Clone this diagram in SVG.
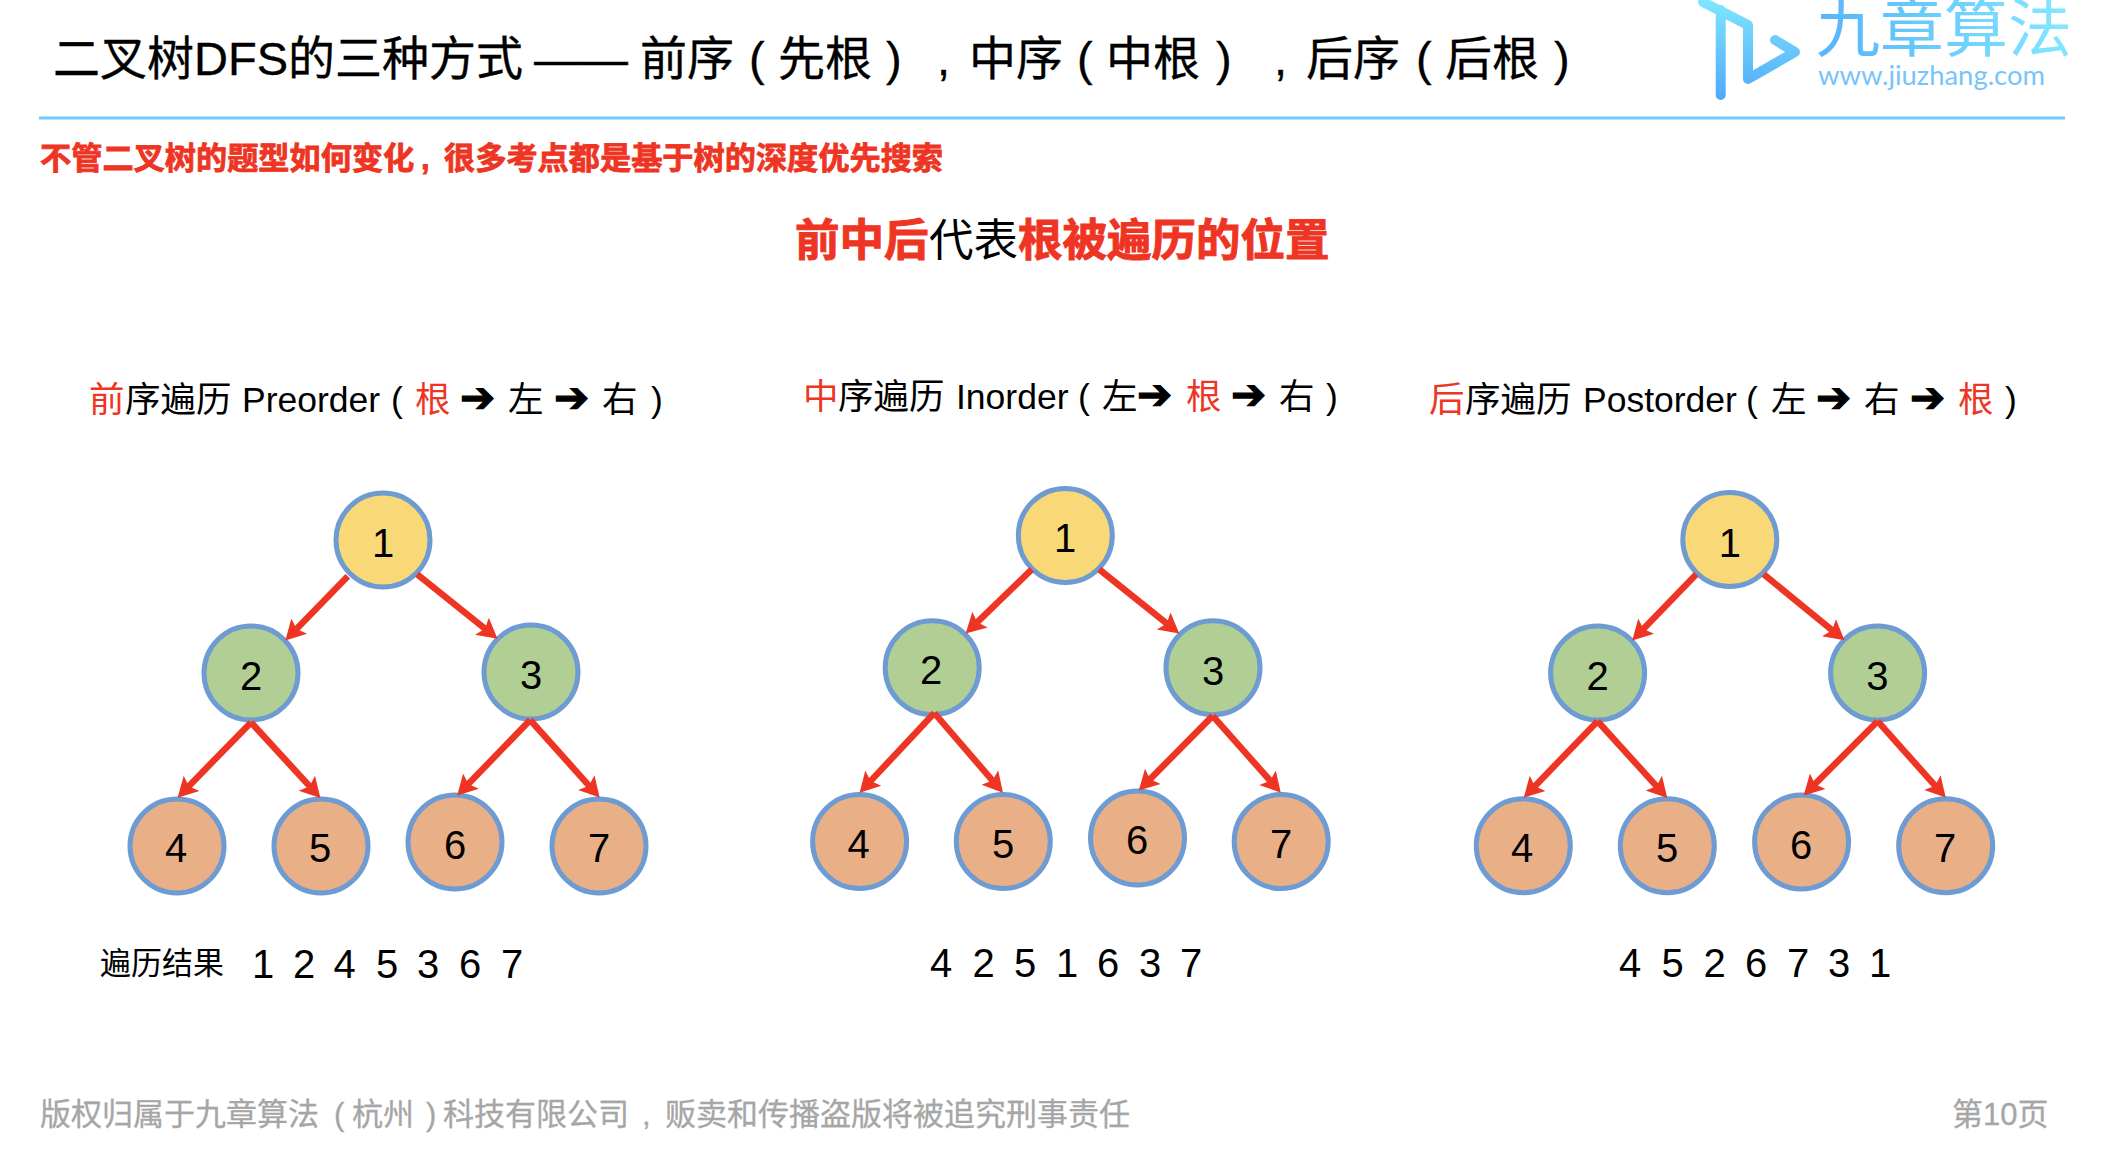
<svg xmlns="http://www.w3.org/2000/svg" width="2106" height="1158" viewBox="0 0 2106 1158">
<defs>
<style>
text{font-family:"Liberation Sans","Noto Sans CJK SC",sans-serif;fill:#000}
.r{fill:#EE3524}
.b{font-weight:700;stroke:#EE3524}
.title{font-size:47px;stroke:#000;stroke-width:.35px}
.sub{font-size:31.2px}
.sub .b{stroke-width:.8px}
.head{font-size:44.5px}
.head .b{stroke-width:1px}
.tree{font-size:35.5px}
.seq{font-size:40px;text-anchor:middle}
.foot{font-size:31px;fill:#A6A6A6;stroke:#A6A6A6;stroke-width:.3px}
.lbl{font-size:40px;text-anchor:middle}
.arw{font-family:"DejaVu Sans",sans-serif;font-size:42px;stroke:#000;stroke-width:1.2px}
circle{stroke:#6E9BD2;stroke-width:5}
.y{fill:#F9D877}.g{fill:#B1CE95}.o{fill:#E9B088}
.c{stroke:#EE3524;stroke-width:6.5;fill:none;marker-end:url(#ah)}
</style>
<marker id="ah" markerUnits="userSpaceOnUse" viewBox="0 0 22 24" markerWidth="22" markerHeight="24" refX="12" refY="12" orient="auto"><path d="M0,1 L20,12 L0,23 L4,12 Z" fill="#EE3524"/></marker>
<linearGradient id="lg" gradientUnits="userSpaceOnUse" x1="1720" y1="0" x2="1720" y2="100"><stop offset="0" stop-color="#7FE6FF"/><stop offset="1" stop-color="#50A8FA"/></linearGradient>
<linearGradient id="tg" gradientUnits="userSpaceOnUse" x1="1818" y1="50" x2="2069" y2="10"><stop offset="0" stop-color="#55B4FB"/><stop offset="1" stop-color="#85E8FF"/></linearGradient>
</defs>
<rect width="2106" height="1158" fill="#fff"/>

<g id="header">
<text class="title" y="75"><tspan x="53">二叉树DFS的三种方式</tspan><tspan x="534">——</tspan><tspan x="640">前序</tspan><tspan x="749">(</tspan><tspan x="778">先根</tspan><tspan x="886">)</tspan><tspan x="937">,</tspan><tspan x="969">中序</tspan><tspan x="1077">(</tspan><tspan x="1106">中根</tspan><tspan x="1216">)</tspan><tspan x="1274">,</tspan><tspan x="1306">后序</tspan><tspan x="1416">(</tspan><tspan x="1445">后根</tspan><tspan x="1554">)</tspan></text>
<rect x="39" y="116.5" width="2026" height="3" fill="#6DCBFD"/>
<text class="sub r" y="169"><tspan class="b" x="40">不管二叉树的题型如何变化</tspan><tspan class="b" x="421">,</tspan><tspan class="b" x="444">很多考点都是基于树的深度优先搜索</tspan></text>
<text class="head" y="256"><tspan class="r b" x="795">前中后</tspan><tspan x="929">代表</tspan><tspan class="r b" x="1018">根被遍历的位置</tspan></text>
</g>

<g id="logo">
<path d="M1703,2 L1748,25 L1748,79 L1795,52 L1775,40 M1720.7,10 L1720.7,95" fill="none" stroke="url(#lg)" stroke-width="10" stroke-linecap="round" stroke-linejoin="round"/>
<text x="1816" y="51" font-size="64" style="fill:url(#tg)">九章算法</text>
<text x="1818" y="85" textLength="227" lengthAdjust="spacingAndGlyphs" style="font-family:Lato,sans-serif;font-size:26px;fill:#78C4FA">www.jiuzhang.com</text>
</g>

<g id="tree-titles">
<text class="tree" y="412"><tspan class="r" x="89">前</tspan><tspan x="125">序遍历</tspan><tspan x="242">Preorder</tspan><tspan x="391">(</tspan><tspan class="r" x="415">根</tspan><tspan class="arw" x="460">➔</tspan><tspan x="508">左</tspan><tspan class="arw" x="554">➔</tspan><tspan x="602">右</tspan><tspan x="651">)</tspan></text>
<text class="tree" y="409"><tspan class="r" x="803">中</tspan><tspan x="838">序遍历</tspan><tspan x="956">Inorder</tspan><tspan x="1078">(</tspan><tspan x="1102">左</tspan><tspan class="arw" x="1137">➔</tspan><tspan class="r" x="1186">根</tspan><tspan class="arw" x="1231">➔</tspan><tspan x="1279">右</tspan><tspan x="1326">)</tspan></text>
<text class="tree" y="412"><tspan class="r" x="1429">后</tspan><tspan x="1465">序遍历</tspan><tspan x="1583">Postorder</tspan><tspan x="1746">(</tspan><tspan x="1771">左</tspan><tspan class="arw" x="1816">➔</tspan><tspan x="1864">右</tspan><tspan class="arw" x="1910">➔</tspan><tspan class="r" x="1958">根</tspan><tspan x="2005">)</tspan></text>
</g>

<g id="t1-n1"><circle class="y" cx="383" cy="540" r="47"/><text class="lbl" x="383" y="557">1</text></g>
<g id="t1-n2"><circle class="g" cx="251" cy="673" r="47"/><text class="lbl" x="251" y="690">2</text></g>
<g id="t1-n3"><circle class="g" cx="531" cy="672" r="47"/><text class="lbl" x="531" y="689">3</text></g>
<g id="t1-n4"><circle class="o" cx="177" cy="846" r="47"/><text class="lbl" x="176" y="862">4</text></g>
<g id="t1-n5"><circle class="o" cx="321" cy="846" r="47"/><text class="lbl" x="320" y="862">5</text></g>
<g id="t1-n6"><circle class="o" cx="455" cy="842" r="47"/><text class="lbl" x="455" y="859">6</text></g>
<g id="t1-n7"><circle class="o" cx="599" cy="846" r="47"/><text class="lbl" x="599" y="862">7</text></g>

<g id="t2-n1"><circle class="y" cx="1065.3" cy="535.5" r="47"/><text class="lbl" x="1065" y="552">1</text></g>
<g id="t2-n2"><circle class="g" cx="932.2" cy="667.8" r="47"/><text class="lbl" x="931" y="684">2</text></g>
<g id="t2-n3"><circle class="g" cx="1213" cy="667.8" r="47"/><text class="lbl" x="1213" y="684.5">3</text></g>
<g id="t2-n4"><circle class="o" cx="859.6" cy="841.6" r="47"/><text class="lbl" x="858.5" y="857.5">4</text></g>
<g id="t2-n5"><circle class="o" cx="1003.3" cy="841.6" r="47"/><text class="lbl" x="1003" y="857.5">5</text></g>
<g id="t2-n6"><circle class="o" cx="1137.5" cy="838" r="47"/><text class="lbl" x="1137" y="854">6</text></g>
<g id="t2-n7"><circle class="o" cx="1281.2" cy="841.6" r="47"/><text class="lbl" x="1281" y="857.5">7</text></g>

<g id="t3-n1"><circle class="y" cx="1729.8" cy="539.6" r="47"/><text class="lbl" x="1729.8" y="557">1</text></g>
<g id="t3-n2"><circle class="g" cx="1597.6" cy="673" r="47"/><text class="lbl" x="1597.6" y="690">2</text></g>
<g id="t3-n3"><circle class="g" cx="1877.6" cy="673" r="47"/><text class="lbl" x="1877.3" y="690">3</text></g>
<g id="t3-n4"><circle class="o" cx="1523.3" cy="845.7" r="47"/><text class="lbl" x="1522" y="862">4</text></g>
<g id="t3-n5"><circle class="o" cx="1667.3" cy="845.7" r="47"/><text class="lbl" x="1667" y="862">5</text></g>
<g id="t3-n6"><circle class="o" cx="1801.6" cy="842" r="47"/><text class="lbl" x="1801" y="858.5">6</text></g>
<g id="t3-n7"><circle class="o" cx="1945.7" cy="845.7" r="47"/><text class="lbl" x="1945" y="862">7</text></g>

<g id="connectors">
<line class="c" x1="347.8" y1="576.3" x2="290.9" y2="634.7"/>
<line class="c" x1="417.1" y1="574.3" x2="491.3" y2="633.8"/>
<line class="c" x1="251" y1="722.4" x2="183.2" y2="791.9"/>
<line class="c" x1="251" y1="722.4" x2="315" y2="792.1"/>
<line class="c" x1="530.2" y1="720" x2="462.7" y2="789.8"/>
<line class="c" x1="530.2" y1="720" x2="594.3" y2="791.6"/>
<line class="c" x1="1031.8" y1="569.4" x2="971.4" y2="627.9"/>
<line class="c" x1="1099.2" y1="569.4" x2="1173" y2="628.5"/>
<line class="c" x1="934.3" y1="713" x2="865.1" y2="786.9"/>
<line class="c" x1="934.3" y1="713" x2="997.7" y2="786.6"/>
<line class="c" x1="1212.7" y1="715.9" x2="1144.4" y2="784.9"/>
<line class="c" x1="1212.7" y1="715.9" x2="1275.5" y2="786.7"/>
<line class="c" x1="1696.3" y1="574.3" x2="1637.8" y2="634.7"/>
<line class="c" x1="1763.7" y1="574.3" x2="1838.3" y2="635.3"/>
<line class="c" x1="1597.6" y1="721.2" x2="1529.3" y2="791.9"/>
<line class="c" x1="1597.6" y1="721.2" x2="1661.9" y2="792.1"/>
<line class="c" x1="1877.6" y1="721.2" x2="1809.3" y2="789.8"/>
<line class="c" x1="1877.6" y1="721.2" x2="1940.4" y2="791.6"/>
</g>

<g id="results">
<text x="100" y="974" style="font-size:31px">遍历结果</text>
<text class="seq" y="977.5"><tspan x="263">1</tspan><tspan x="304">2</tspan><tspan x="344.5">4</tspan><tspan x="387">5</tspan><tspan x="428">3</tspan><tspan x="470">6</tspan><tspan x="512">7</tspan></text>
<text class="seq" y="976.5"><tspan x="941">4</tspan><tspan x="983.7">2</tspan><tspan x="1025">5</tspan><tspan x="1067">1</tspan><tspan x="1108">6</tspan><tspan x="1150">3</tspan><tspan x="1191">7</tspan></text>
<text class="seq" y="976.5"><tspan x="1630">4</tspan><tspan x="1672.6">5</tspan><tspan x="1714.7">2</tspan><tspan x="1756">6</tspan><tspan x="1798">7</tspan><tspan x="1839">3</tspan><tspan x="1880">1</tspan></text>
</g>

<g id="footer">
<text class="foot" y="1125"><tspan x="40">版权归属于九章算法</tspan><tspan x="334">(</tspan><tspan x="352">杭州</tspan><tspan x="426">)</tspan><tspan x="443">科技有限公司</tspan><tspan x="642">,</tspan><tspan x="665">贩卖和传播盗版将被追究刑事责任</tspan></text>
<text class="foot" y="1125"><tspan x="1952">第10页</tspan></text>
</g>
</svg>
